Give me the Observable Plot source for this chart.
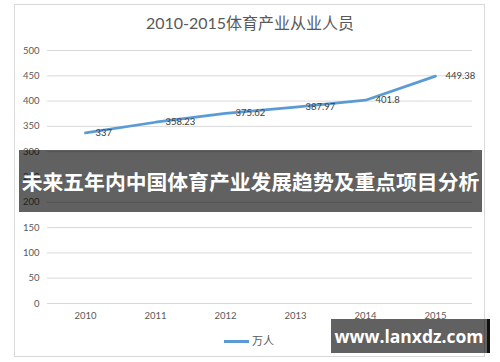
<!DOCTYPE html>
<html><head><meta charset="utf-8">
<script src="https://cdn.jsdelivr.net/npm/d3@7"></script>
<script src="https://cdn.jsdelivr.net/npm/@observablehq/plot@0.6"></script>
<style>
html,body{margin:0;padding:0;background:#fff;}
#wrap{position:relative;width:500px;height:362px;overflow:hidden;font-family:Lato,"Noto Sans CJK SC",sans-serif;}
#frame{position:absolute;left:14px;top:4px;width:471px;height:353px;border:1px solid #d9d9d9;box-sizing:border-box;}
#title{position:absolute;left:0;width:500px;top:12px;text-align:center;font-size:16px;color:#595959;line-height:22px;}
#legend{position:absolute;left:224px;top:333px;font-size:11px;color:#595959;line-height:16px;display:flex;align-items:center;}
#legend .sw{display:inline-block;width:25px;height:3px;background:#5B9BD5;margin-right:3px;}
#banner{position:absolute;left:19px;top:150px;width:463px;height:62px;background:rgba(0,0,0,0.62);color:#fff;font-family:"Noto Sans CJK SC",sans-serif;font-weight:bold;font-size:20.8px;line-height:62px;text-align:center;white-space:nowrap;overflow:visible;}
#wm{position:absolute;left:331px;top:319px;width:156px;height:34px;background:rgba(0,0,0,0.62);border-right:3px solid #111;color:#fff;font-family:"Open Sans","DejaVu Sans",sans-serif;font-weight:bold;font-size:17.5px;line-height:34px;text-align:center;}
#chart{position:absolute;left:0;top:0;}
</style></head>
<body>
<div id="wrap">
  <div id="frame"></div>
  <div id="chart"></div>
  <div id="title"></div>
  <div id="legend"><span class="sw"></span><span id="legtxt"></span></div>
  <div id="banner"></div>
  <div id="wm"></div>
</div>
<script>
const title = "2010-2015体育产业从业人员";
const years = ["2010","2011","2012","2013","2014","2015"];
const values = [337, 358.23, 375.62, 387.97, 401.8, 449.38];
const labels = ["337","358.23","375.62","387.97","401.8","449.38"];
const yTicks = [0,50,100,150,200,250,300,350,400,450,500];
const seriesName = "万人";
const bannerText = "未来五年内中国体育产业发展趋势及重点项目分析";
const watermark = "www.lanxdz.com";

const data = years.map((y,i)=>({year:y, value:values[i], label:labels[i]}));

const plot = Plot.plot({
  width:500, height:362,
  marginLeft:47, marginRight:28, marginTop:50, marginBottom:59,
  style:{fontFamily:'Lato,"Noto Sans CJK SC",sans-serif', fontSize:"9.5px", color:"#595959", background:"transparent"},
  x:{type:"point", domain:years, padding:0.5, label:null, tickSize:0, tickPadding:9},
  y:{domain:[0,500], ticks:yTicks, label:null, tickSize:0, tickPadding:8},
  marks:[
    Plot.gridY(yTicks, {stroke:"#d9d9d9", strokeOpacity:1, strokeWidth:1}),
    Plot.line(data, {x:"year", y:"value", stroke:"#5B9BD5", strokeWidth:2.75, strokeLinecap:"round", strokeLinejoin:"round"}),
    Plot.text(data, {x:"year", y:"value", text:"label", dx:10, textAnchor:"start", fill:"#404040", fontSize:9.5})
  ]
});
document.getElementById("chart").appendChild(plot);
document.getElementById("title").textContent = title;
document.getElementById("legtxt").textContent = seriesName;
document.getElementById("banner").textContent = bannerText;
document.getElementById("wm").textContent = watermark;
</script>
</body></html>
